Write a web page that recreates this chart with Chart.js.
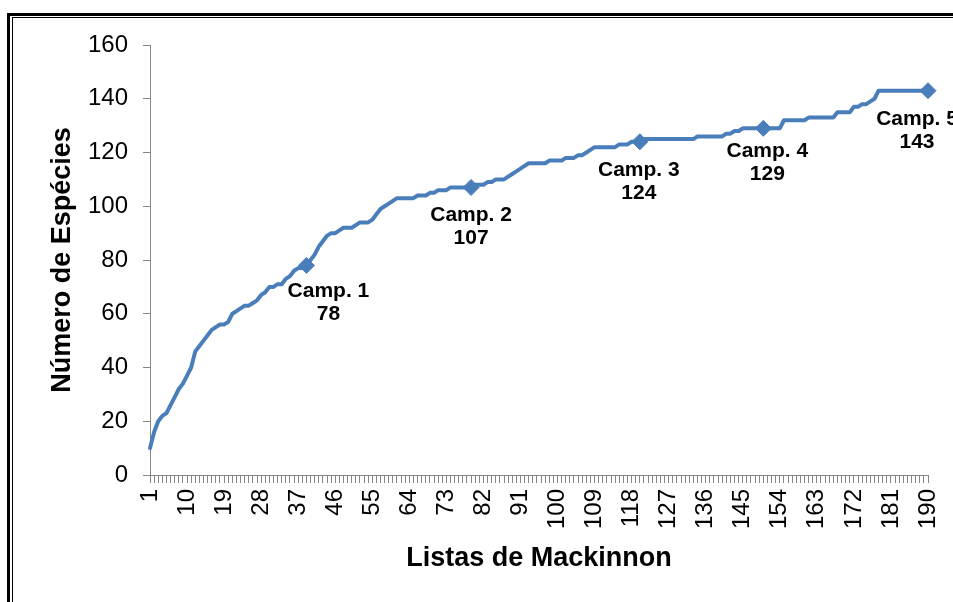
<!DOCTYPE html>
<html>
<head>
<meta charset="utf-8">
<title>Listas de Mackinnon</title>
<script src="https://cdn.jsdelivr.net/npm/chart.js@4.4.0/dist/chart.umd.min.js"></script>
<style>
  html, body { margin: 0; padding: 0; background: #fff; overflow: hidden; }
  #stage { position: relative; width: 953px; height: 602px; overflow: hidden; }
  .frame-outer { position: absolute; left: 7px; top: 13px; width: 2000px; height: 2000px; border: 3px solid #000; }
  .frame-inner { position: absolute; left: 12px; top: 17px; width: 2000px; height: 2000px; border: 1px solid #000; }
  #chart { position: absolute; left: 0; top: 0; }
</style>
</head>
<body>
<div id="stage">
  <div class="frame-outer"></div>
  <div class="frame-inner"></div>
  <canvas id="chart" width="953" height="602"></canvas>
</div>
<script>
// --- 1. DATA ---
// cumulative number of species per Mackinnon list (1..190)
const listNumbers = Array.from({ length: 190 }, (_, i) => i + 1);
const speciesCount = [
  10, 16, 20, 22, 23, 26, 29, 32, 34, 37,
  40, 46, 48, 50, 52, 54, 55, 56, 56, 57,
  60, 61, 62, 63, 63, 64, 65, 67, 68, 70,
  70, 71, 71, 73, 74, 76, 77, 77, 78, 80,
  82, 85, 87, 89, 90, 90, 91, 92, 92, 92,
  93, 94, 94, 94, 95, 97, 99, 100, 101, 102,
  103, 103, 103, 103, 103, 104, 104, 104, 105, 105,
  106, 106, 106, 107, 107, 107, 107, 107, 107, 108,
  108, 108, 109, 109, 110, 110, 110, 111, 112, 113,
  114, 115, 116, 116, 116, 116, 116, 117, 117, 117,
  117, 118, 118, 118, 119, 119, 120, 121, 122, 122,
  122, 122, 122, 122, 123, 123, 123, 124, 124, 124,
  125, 125, 125, 125, 125, 125, 125, 125, 125, 125,
  125, 125, 125, 126, 126, 126, 126, 126, 126, 126,
  127, 127, 128, 128, 129, 129, 129, 129, 129, 129,
  129, 129, 129, 129, 132, 132, 132, 132, 132, 132,
  133, 133, 133, 133, 133, 133, 133, 135, 135, 135,
  135, 137, 137, 138, 138, 139, 140, 143, 143, 143,
  143, 143, 143, 143, 143, 143, 143, 143, 143, 143
];
// end of each field campaign (list number) and species total at that point
const campNames = ['Camp. 1', 'Camp. 2', 'Camp. 3', 'Camp. 4', 'Camp. 5'];
const campList = [39, 79, 120, 150, 190];
const campValue = [78, 107, 124, 129, 143];
// x labels that are actually printed
const xTickLabels = ['1', '10', '19', '28', '37', '46', '55', '64', '73', '82', '91', '100',
  '109', '118', '127', '136', '145', '154', '163', '172', '181', '190'];
const yTicks = [0, 20, 40, 60, 80, 100, 120, 140, 160];

// --- 2. STYLE ---
const FONT = '"Liberation Sans", Arial, Helvetica, sans-serif';
const BLUE = '#4A7EBB';
const AXIS = '#868686';
// label nudges [dx, dy] relative to each marker
const labelNudge = [[22, 26], [0, 28], [-1, 28], [4, 23], [-11, 29]];

// marker series only has values at the campaign points
const campMarkers = listNumbers.map(() => null);
campList.forEach((n, k) => { campMarkers[n - 1] = campValue[k]; });

// --- 3. LABEL PLUGIN ---
const campLabels = {
  id: 'campLabels',
  afterDatasetsDraw(chart) {
    const meta = chart.getDatasetMeta(1);
    const ctx = chart.ctx;
    ctx.save();
    ctx.font = 'bold 21px ' + FONT;
    ctx.fillStyle = '#000';
    ctx.textAlign = 'center';
    ctx.textBaseline = 'middle';
    campList.forEach((n, k) => {
      const pt = meta.data[n - 1];
      const [dx, dy] = labelNudge[k];
      ctx.fillText(campNames[k], pt.x + dx, pt.y + dy);
      ctx.fillText(String(campValue[k]), pt.x + dx, pt.y + dy + 23);
    });
    ctx.restore();
  }
};

// --- 4. CHART ---
Chart.defaults.font.family = FONT;
Chart.defaults.color = '#000';

new Chart(document.getElementById('chart'), {
  type: 'line',
  data: {
    labels: listNumbers,
    datasets: [{
      data: speciesCount,
      borderColor: BLUE,
      borderWidth: 4,
      pointRadius: 0,
      borderJoinStyle: 'round',
      borderCapStyle: 'round',
      tension: 0,
      clip: false
    }, {
      data: campMarkers,
      showLine: false,
      pointStyle: 'rectRot',
      pointRadius: 8,
      pointBackgroundColor: BLUE,
      pointBorderColor: BLUE,
      pointBorderWidth: 1,
      clip: false
    }]
  },
  options: {
    responsive: false,
    animation: false,
    events: [],
    layout: { padding: { left: 0, top: 45, right: 25, bottom: 0 } },
    plugins: { legend: { display: false }, tooltip: { enabled: false } },
    scales: {
      x: {
        type: 'category',
        offset: false,
        border: { display: true, color: AXIS, width: 1 },
        grid: { drawOnChartArea: false, drawTicks: true, tickLength: 8, color: AXIS },
        ticks: {
          autoSkip: false,
          minRotation: 90,
          maxRotation: 90,
          padding: 6,
          font: { size: 24 },
          callback: (val, i) => xTickLabels.includes(String(listNumbers[i])) ? String(listNumbers[i]) : ''
        },
        title: {
          display: true,
          text: 'Listas de Mackinnon',
          font: { size: 27, weight: 'bold' },
          padding: { top: 0, bottom: 27 }
        },
        afterFit: (scale) => {
          scale.height = 127;
          scale.paddingLeft = 0;
          scale.paddingRight = 0;
        }
      },
      y: {
        min: yTicks[0],
        max: yTicks[yTicks.length - 1],
        border: { display: true, color: AXIS, width: 1 },
        grid: { drawOnChartArea: false, drawTicks: true, tickLength: 7, color: AXIS },
        afterBuildTicks: (scale) => { scale.ticks = yTicks.map(v => ({ value: v })); },
        ticks: { padding: 15, font: { size: 24 } },
        title: {
          display: true,
          text: 'Número de Espécies',
          font: { size: 27, weight: 'bold' },
          padding: { top: 46, bottom: 0 }
        },
        afterFit: (scale) => { scale.width = 150; }
      }
    }
  },
  plugins: [campLabels]
});
</script>
</body>
</html>
